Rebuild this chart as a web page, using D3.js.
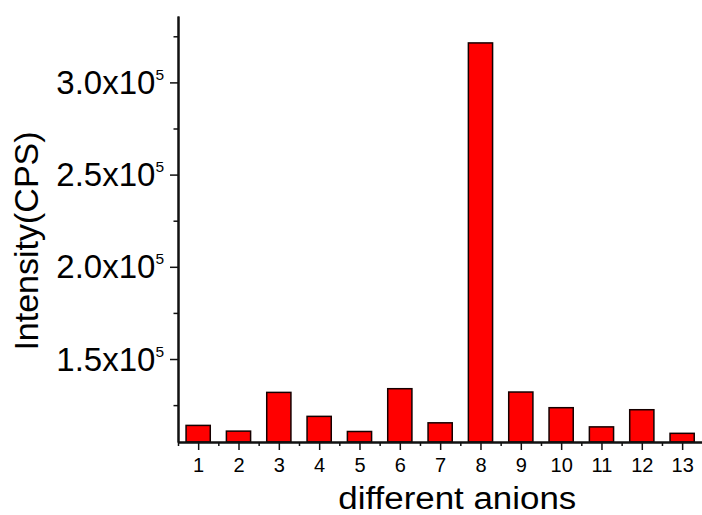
<!DOCTYPE html>
<html>
<head>
<meta charset="utf-8">
<script src="https://cdn.jsdelivr.net/npm/d3@7/dist/d3.min.js"></script>
<style>
  html, body { margin: 0; padding: 0; background: #fff; }
  svg { display: block; font-family: "Liberation Sans", Arial, sans-serif; }
</style>
</head>
<body>
<svg id="chart" width="702" height="515"></svg>
<script>
// Anion index on the x axis
const anions = [1, 2, 3, 4, 5, 6, 7, 8, 9, 10, 11, 12, 13];
// Measured intensity (counts per second) for each anion
const intensity = [114000, 110900, 131900, 118900, 110700, 133900, 115400,
                   321400, 132100, 123600, 113200, 122500, 109700];
// Labelled y ticks: mantissa shown as "m x10^5"
const yMajorTicks = [150000, 200000, 250000, 300000];
const yMajorLabels = ["1.5", "2.0", "2.5", "3.0"];
const yMinorTicks = [125000, 175000, 225000, 275000, 325000];
const xMinorTicks = [0.5, 1.5, 2.5, 3.5, 4.5, 5.5, 6.5, 7.5, 8.5, 9.5, 10.5, 11.5, 12.5];

const svg = d3.select("#chart");
const plotLeft = 178, plotRight = 702.3, plotTop = 16, plotBottom = 442;

const x = d3.scaleLinear().domain([0.5, 13.5]).range([plotLeft, plotRight]);
const y = d3.scaleLinear().domain([105000, 336000]).range([plotBottom, plotTop]);
const barW = (x(2) - x(1)) * 0.6;

// Bars
svg.append("g").selectAll("rect")
  .data(anions.map((a, i) => ({ a, v: intensity[i] })))
  .join("rect")
  .attr("x", d => x(d.a) - barW / 2)
  .attr("width", barW)
  .attr("y", d => y(d.v))
  .attr("height", d => y.range()[0] - y(d.v))
  .attr("fill", "#ff0000")
  .attr("stroke", "#150000")
  .attr("stroke-width", 1.5);

function styleAxis(g) {
  g.selectAll("path.domain").attr("stroke", "#111").attr("stroke-width", 2);
  g.selectAll(".tick line").attr("stroke", "#111").attr("stroke-width", 1.5);
}

// Y axis: minor then major ticks
svg.append("g").attr("transform", `translate(${plotLeft},0)`)
  .call(d3.axisLeft(y).tickValues(yMinorTicks).tickSize(4.5).tickSizeOuter(0).tickFormat(""))
  .call(styleAxis);
svg.append("g").attr("transform", `translate(${plotLeft},0)`)
  .call(d3.axisLeft(y).tickValues(yMajorTicks).tickSize(8).tickSizeOuter(0).tickFormat(""))
  .call(styleAxis);

// Y tick labels with a superscript exponent
const yl = svg.append("g").selectAll("text")
  .data(yMajorTicks)
  .join("text")
  .attr("x", 164)
  .attr("y", d => y(d) + 11.5)
  .attr("text-anchor", "end")
  .attr("fill", "#000");
yl.append("tspan").attr("font-size", 33).text((d, i) => yMajorLabels[i] + "x10");
yl.append("tspan").attr("font-size", 15.5).attr("dy", -14).text("5");

// X axis: minor then major ticks
svg.append("g").attr("transform", `translate(0,${plotBottom})`)
  .call(d3.axisBottom(x).tickValues(xMinorTicks).tickSize(4).tickSizeOuter(0).tickFormat(""))
  .call(styleAxis);
const xg = svg.append("g").attr("transform", `translate(0,${plotBottom})`)
  .call(d3.axisBottom(x).tickValues(anions).tickSize(8).tickSizeOuter(0).tickPadding(0))
  .call(styleAxis);
xg.selectAll(".tick text")
  .attr("font-size", 20)
  .attr("font-family", "'Liberation Sans', Arial, sans-serif")
  .attr("fill", "#000")
  .attr("dy", null)
  .attr("y", 29.7);

// Axis titles
svg.append("text")
  .attr("x", 457.3).attr("y", 509)
  .attr("text-anchor", "middle")
  .attr("font-size", 31)
  .attr("textLength", 238)
  .attr("lengthAdjust", "spacingAndGlyphs")
  .attr("fill", "#000")
  .text("different anions");

svg.append("text")
  .attr("transform", "translate(37.5,241) rotate(-90)")
  .attr("text-anchor", "middle")
  .attr("font-size", 34)
  .attr("fill", "#000")
  .text("Intensity(CPS)");
</script>
</body>
</html>
